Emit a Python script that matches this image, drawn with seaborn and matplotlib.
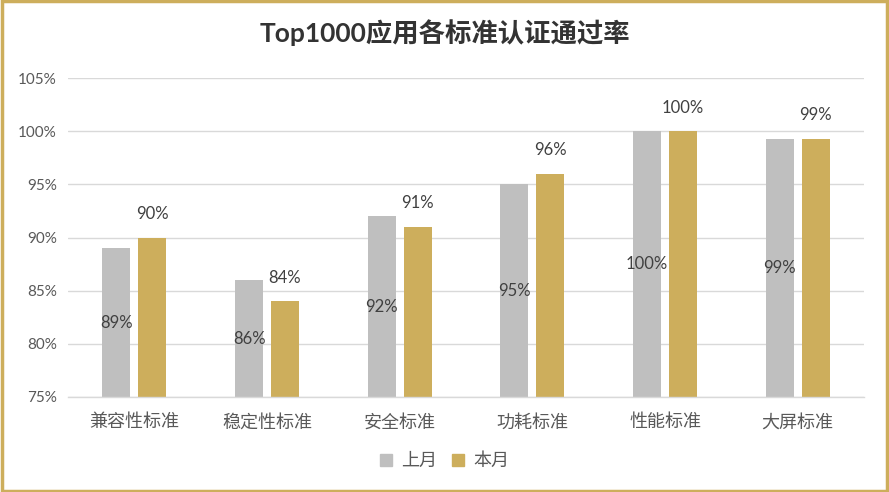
import pandas as pd
import seaborn as sns
import matplotlib.pyplot as plt
from matplotlib.patches import Rectangle

categories = ['兼容性标准', '稳定性标准', '安全标准', '功耗标准', '性能标准', '大屏标准']
last_month = [89, 86, 92, 95, 100, 99.3]
this_month = [90, 84, 91, 96, 100, 99.3]
series = ['上月', '本月']
colors = ['#BFBFBF', '#CDAE5C']

df = pd.DataFrame({
    'cat': categories * 2,
    'val': last_month + this_month,
    'series': [series[0]] * 6 + [series[1]] * 6,
})

sns.set_style('white')
plt.rcParams['font.family'] = ['Lato', 'Noto Sans CJK SC', 'DejaVu Sans']

fig = plt.figure(figsize=(8.89, 4.92), dpi=100)
ax = fig.add_axes([68 / 889, 1 - 397 / 492, 796 / 889, 319 / 492])

sns.barplot(data=df, x='cat', y='val', hue='series', palette=colors, saturation=1,
            width=0.54, gap=0.22, linewidth=0, ax=ax, legend=False)

ax.set_ylim(75, 105)
ax.set_yticks(range(75, 106, 5))
ax.set_yticklabels([f'{t}%' for t in range(75, 106, 5)], color='#595959', fontsize=11)
ax.set_xlabel('')
ax.set_ylabel('')
ax.tick_params(axis='x', colors='#595959', labelsize=13, length=0, pad=12)
ax.tick_params(axis='y', length=0, pad=8)
ax.yaxis.grid(True, color='#D9D9D9', linewidth=1)
ax.set_axisbelow(True)
for s in ['top', 'right', 'left']:
    ax.spines[s].set_visible(False)
ax.spines['bottom'].set_color('#D9D9D9')
ax.spines['bottom'].set_linewidth(1)

# data labels: gray in the middle of the bar, gold above
for cont, vals, inside in zip(ax.containers, [last_month, this_month], [True, False]):
    for bar, v in zip(cont, vals):
        cx = bar.get_x() + bar.get_width() / 2
        if inside:
            ax.text(cx, (75 + v) / 2, f'{round(v)}%', ha='center', va='center',
                    fontsize=12, color='#404040')
        else:
            ax.annotate(f'{round(v)}%', (cx, v), xytext=(0, 17), textcoords='offset points',
                        ha='center', va='center', fontsize=12, color='#404040')

fig.text(0.5, 1 - 33 / 492, 'Top1000应用各标准认证通过率', ha='center', va='center',
         fontsize=19, fontweight='bold', color='#333333')

handles = [Rectangle((0, 0), 1, 1, color=c) for c in colors]
fig.legend(handles, series, loc='center', bbox_to_anchor=(0.5, 1 - 461 / 492), ncol=2,
           frameon=False, fontsize=13, handlelength=0.7, handleheight=0.7,
           handletextpad=0.5, columnspacing=0.8, labelcolor='#595959')

fig.add_artist(Rectangle((0.002, 0.003), 0.996, 0.994, transform=fig.transFigure,
                         fill=False, edgecolor='#CDAE5C', linewidth=2.5))

fig.savefig('out.png', dpi=100)
